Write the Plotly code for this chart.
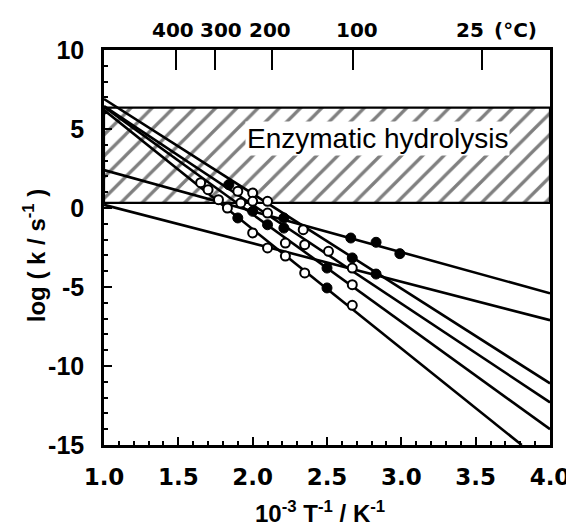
import plotly.graph_objects as go

# ---- data ----
# straight fitted lines: (x_start, y_start) -> (x_end, y_end)
line_x0 = [1.0, 1.0, 1.0, 1.0, 1.0, 1.0]
line_y0 = [2.4, 0.2, 6.9, 6.45, 6.4, 6.2]
line_x1 = [4.0, 4.0, 4.0, 4.0, 4.0, 3.81]
line_y1 = [-5.4, -7.1, -11.1, -12.3, -14.0, -15.0]

open_x = [1.65, 1.70, 1.77, 1.83, 1.90, 1.92, 2.00, 2.00, 2.00, 2.10, 2.10, 2.10,
          2.22, 2.22, 2.34, 2.35, 2.35, 2.51, 2.67, 2.67, 2.67]
open_y = [1.6, 1.16, 0.53, 0.0, 1.06, 0.32, 0.95, 0.42, -1.58, 0.42, -0.32, -2.53,
          -2.22, -3.04, -1.37, -2.32, -4.11, -2.74, -3.80, -4.85, -6.16]

filled_x = [1.84, 1.90, 2.00, 2.10, 2.21, 2.21, 2.50, 2.50, 2.66, 2.83, 2.99, 2.67, 2.83]
filled_y = [1.47, -0.63, -0.21, -1.06, -0.63, -1.27, -3.80, -5.06, -1.90, -2.17, -2.89, -3.16, -4.18]

# enzymatic hydrolysis band
band_x = [1.0, 4.0]
band_y = [0.32, 6.35]
band_label = "Enzymatic hydrolysis"

# top temperature axis
top_tick_vals = [1.486, 1.745, 2.13, 2.675, 3.54]
top_label_x = [1.467, 1.79, 2.118, 2.70, 3.46]
top_labels = ["400", "300", "200", "100", "25"]

x_ticks = [1.0, 1.5, 2.0, 2.5, 3.0, 3.5, 4.0]
x_ticktext = ["1.0", "1.5", "2.0", "2.5", "3.0", "3.5", "4.0"]
y_ticks = [10, 5, 0, -5, -10, -15]
y_ticktext = ["10", "5", "0", "-5", "-10", "-15"]

fig = go.Figure()

# hatched band
fig.add_trace(go.Scatter(
    x=[band_x[0], band_x[1], band_x[1], band_x[0], band_x[0]],
    y=[band_y[0], band_y[0], band_y[1], band_y[1], band_y[0]],
    mode="lines", fill="toself",
    fillpattern=dict(shape="/", fgcolor="black", bgcolor="white", size=15, solidity=0.22),
    fillcolor="white",
    line=dict(color="black", width=2.2), hoverinfo="skip", showlegend=False))

for i in range(len(line_x0)):
    fig.add_trace(go.Scatter(x=[line_x0[i], line_x1[i]], y=[line_y0[i], line_y1[i]],
                             mode="lines", line=dict(color="black", width=2.6),
                             showlegend=False, cliponaxis=True))

fig.add_trace(go.Scatter(x=open_x, y=open_y, mode="markers",
                         marker=dict(symbol="circle", size=9, color="white",
                                     line=dict(color="black", width=2)),
                         showlegend=False))
fig.add_trace(go.Scatter(x=filled_x, y=filled_y, mode="markers",
                         marker=dict(symbol="circle", size=10, color="black",
                                     line=dict(color="black", width=1)),
                         showlegend=False))

# invisible trace on top axis
fig.add_trace(go.Scatter(x=[1, 4], y=[0, 0], xaxis="x2", mode="markers",
                         marker=dict(opacity=0), showlegend=False, hoverinfo="skip"))

bold_arial = dict(family="Liberation Sans, Arial", size=25, color="black", weight="bold")
bold_wide = dict(family="DejaVu Sans", size=23, color="black", weight="bold")
bold_top = dict(family="DejaVu Sans", size=20, color="black", weight="bold")

fig.update_layout(
    width=574, height=527,
    margin=dict(l=96, r=22, t=42, b=90),
    paper_bgcolor="white", plot_bgcolor="white",
    xaxis=dict(range=[1, 4], tickvals=x_ticks, ticktext=x_ticktext, ticks="inside",
               ticklen=8, tickwidth=1.5, tickcolor="black", showgrid=False, zeroline=False,
               showline=True, linecolor="black", linewidth=2.5, mirror=True,
               tickfont=bold_wide, tickangle=0, ticklabelstandoff=10,
               minor=dict(dtick=0.1, ticks="inside", ticklen=4, tickwidth=1.5, tickcolor="black")),
    xaxis2=dict(range=[1, 4], overlaying="x", side="top", tickvals=top_tick_vals,
                showticklabels=False, ticks="inside", ticklen=20, tickwidth=2,
                tickcolor="black", showgrid=False, zeroline=False, showline=False),
    yaxis=dict(range=[-15, 10], tickvals=y_ticks, ticktext=y_ticktext, ticks="inside",
               ticklen=8, tickwidth=1.5,
               tickcolor="black", showgrid=False, zeroline=False, showline=True,
               linecolor="black", linewidth=2.5, mirror=True, tickfont=bold_arial,
               ticklabelstandoff=12,
               minor=dict(dtick=1, ticks="inside", ticklen=4, tickwidth=1.5, tickcolor="black")),
)

annotations = []
for xv, t in zip(top_label_x, top_labels):
    annotations.append(dict(x=xv, y=1.0, xref="x", yref="paper", yshift=20, text=t,
                            showarrow=False, font=bold_top, xanchor="center", yanchor="middle"))
annotations.append(dict(x=3.77, y=1.0, xref="x", yref="paper", yshift=20, text="(°C)",
                        showarrow=False, font=bold_top, xanchor="center", yanchor="middle"))
annotations.append(dict(x=2.84, y=4.37, xref="x", yref="y", text=band_label, showarrow=False,
                        font=dict(family="Liberation Sans, Arial", size=28, color="black"),
                        bgcolor="white", borderpad=1))
annotations.append(dict(x=-0.155, y=0.48, xref="paper", yref="paper", textangle=-90,
                        text="log ( k / s<sup>-1</sup> )", showarrow=False,
                        font=dict(family="Liberation Sans, Arial", size=24, color="black", weight="bold"),
                        xanchor="center", yanchor="middle"))
annotations.append(dict(x=0.485, y=-0.17, xref="paper", yref="paper",
                        text="10<sup>-3</sup> T<sup>-1</sup> / K<sup>-1</sup>", showarrow=False,
                        font=dict(family="Liberation Sans, Arial", size=24, color="black", weight="bold"),
                        xanchor="center", yanchor="middle"))
fig.update_layout(annotations=annotations)

fig.write_html("out.html")
